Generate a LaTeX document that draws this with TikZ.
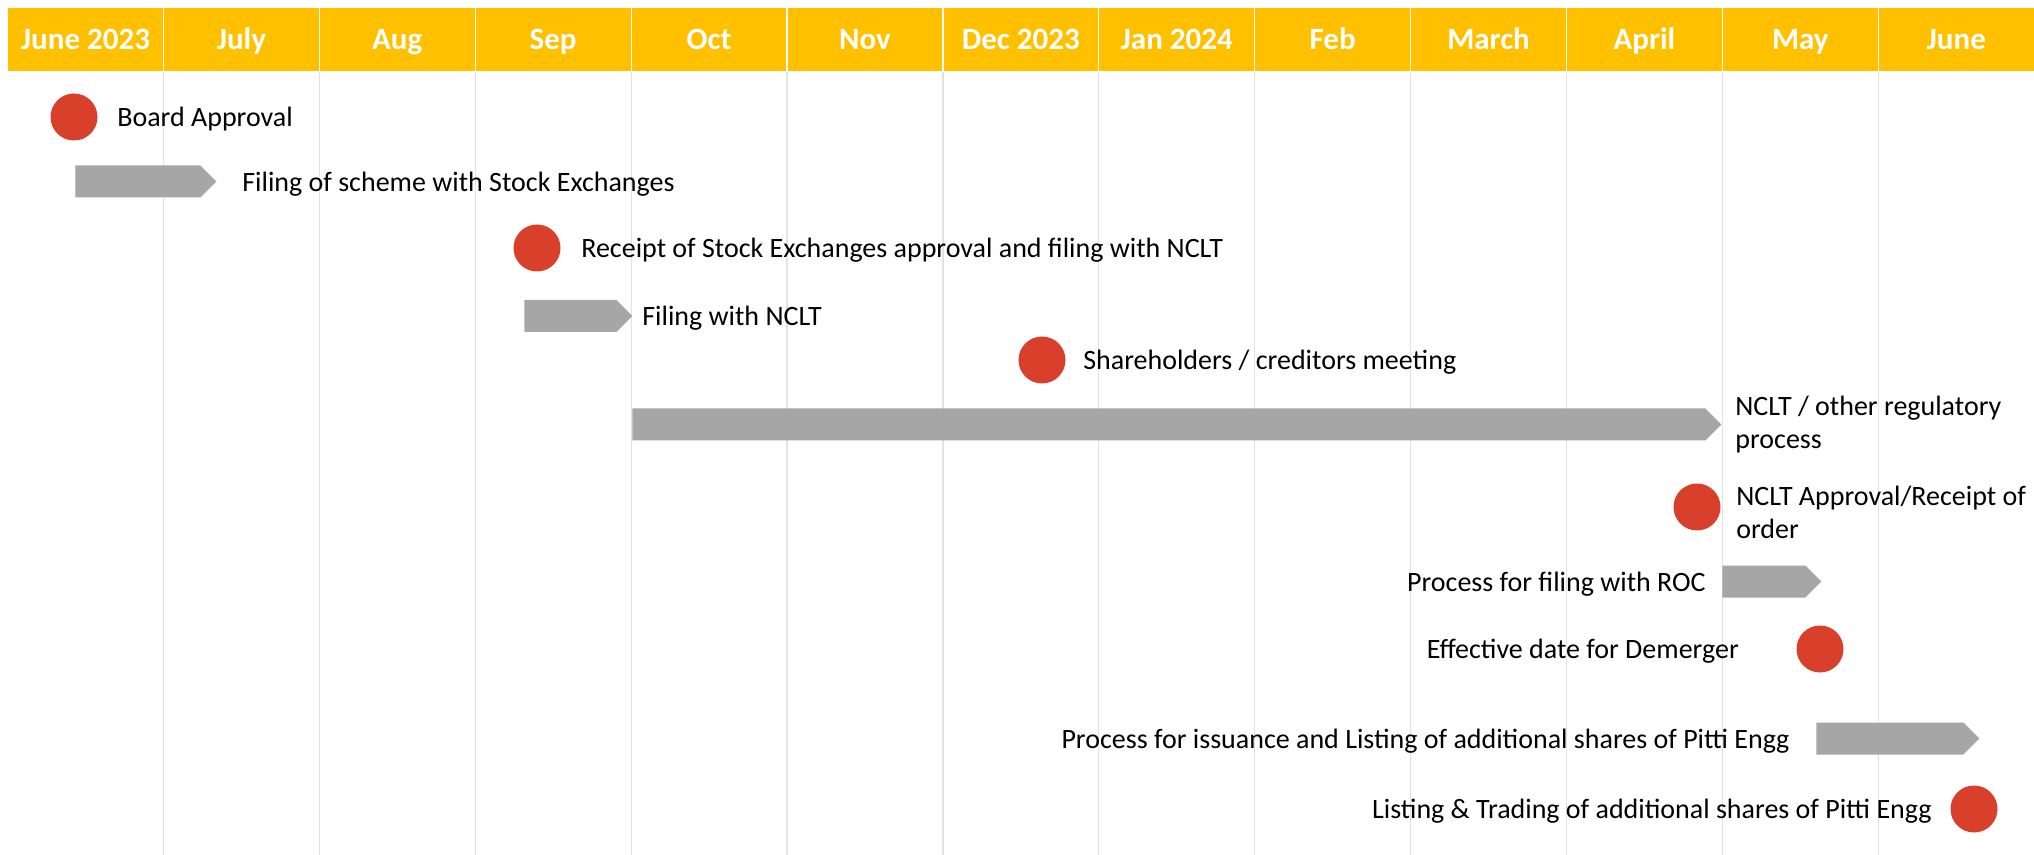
\documentclass[tikz,border=0pt]{standalone}
\usepackage{fontspec}
\setmainfont{Carlito}
\usetikzlibrary{positioning,shapes.symbols}

\definecolor{hdryellow}{HTML}{FFC000}
\definecolor{dotred}{HTML}{D9402B}
\definecolor{bargray}{HTML}{A6A6A6}
\definecolor{gridgray}{HTML}{E2E2E2}

\tikzset{
  month/.style={rectangle, fill=hdryellow, draw=white, line width=0.6pt,
    minimum width=77.95pt, minimum height=32.5pt, inner sep=0pt, outer sep=0pt,
    text=white, font=\fontsize{15.5}{18}\selectfont\bfseries,
    text height=10pt, text depth=0pt},
  milestone/.style={circle, fill=dotred, minimum size=23.5pt, inner sep=0pt},
  bar/.style={signal, signal to=east, fill=bargray, minimum height=16pt,
    inner sep=0pt, anchor=west},
  lbl/.style={inner sep=0pt, font=\fontsize{14}{16.5}\selectfont,
    text height=13.3pt, text depth=3.5pt},
  lbltwo/.style={inner sep=0pt, font=\fontsize{14}{16.5}\selectfont, align=left},
  gridline/.style={gridgray, line width=0.6pt}
}

\begin{document}
\begin{tikzpicture}[x=0.5pt,y=-0.5pt]
  \useasboundingbox (0,0) rectangle (2034,855);
  \coordinate (bottom) at (0,855);

  % months
  \node[month] (m1) at (85.45,39.5) {June 2023};
  \node[month, right=0pt of m1] (m2) {July};
  \node[month, right=0pt of m2] (m3) {Aug};
  \node[month, right=0pt of m3] (m4) {Sep};
  \node[month, right=0pt of m4] (m5) {Oct};
  \node[month, right=0pt of m5] (m6) {Nov};
  \node[month, right=0pt of m6] (m7) {Dec 2023};
  \node[month, right=0pt of m7] (m8) {Jan 2024};
  \node[month, right=0pt of m8] (m9) {Feb};
  \node[month, right=0pt of m9] (m10) {March};
  \node[month, right=0pt of m10] (m11) {April};
  \node[month, right=0pt of m11] (m12) {May};
  \node[month, right=0pt of m12] (m13) {June};

  \draw[gridline] (m1.south east) -- (m1.south east |- bottom);
  \draw[gridline] (m2.south east) -- (m2.south east |- bottom);
  \draw[gridline] (m3.south east) -- (m3.south east |- bottom);
  \draw[gridline] (m4.south east) -- (m4.south east |- bottom);
  \draw[gridline] (m5.south east) -- (m5.south east |- bottom);
  \draw[gridline] (m6.south east) -- (m6.south east |- bottom);
  \draw[gridline] (m7.south east) -- (m7.south east |- bottom);
  \draw[gridline] (m8.south east) -- (m8.south east |- bottom);
  \draw[gridline] (m9.south east) -- (m9.south east |- bottom);
  \draw[gridline] (m10.south east) -- (m10.south east |- bottom);
  \draw[gridline] (m11.south east) -- (m11.south east |- bottom);
  \draw[gridline] (m12.south east) -- (m12.south east |- bottom);

  % milestones and processes
  \node[milestone] (board) at (74,117) {};
  \node[lbl, right=9.5pt of board] (boardtxt) {Board Approval};

  \node[bar, minimum width=70.5pt] (filebar) at (75,181.5) {};
  \node[lbl, right=12.5pt of filebar] (filetxt) {Filing of scheme with Stock Exchanges};

  \node[milestone] (receipt) at (537,248) {};
  \node[lbl, right=10pt of receipt] (receipttxt) {Receipt of Stock Exchanges approval and filing with NCLT};

  \node[bar, minimum width=54pt] (ncltbar) at (524,316) {};
  \node[lbl, right=4.5pt of ncltbar] (nclttxt) {Filing with NCLT};

  \node[milestone] (meeting) at (1042,360) {};
  \node[lbl, right=8.5pt of meeting] (meetingtxt) {Shareholders / creditors meeting};

  \node[bar, minimum width=544.5pt] (regbar) at (632,424.5) {};
  \node[lbltwo, right=6.5pt of regbar] (regtxt) {NCLT / other regulatory\\process};

  \node[milestone] (order) at (1697,507) {};
  \node[lbltwo, right=7.5pt of order, yshift=-2.5pt] (ordertxt) {NCLT Approval/Receipt of\\order};

  \node[bar, minimum width=49.5pt] (rocbar) at (1722,581.5) {};
  \node[lbl, left=8pt of rocbar] (roctxt) {Process for filing with ROC};

  \node[milestone] (effective) at (1820,649) {};
  \node[lbl, left=28.5pt of effective] (effectivetxt) {Effective date for Demerger};

  \node[bar, minimum width=81.5pt] (issuebar) at (1816,738.5) {};
  \node[lbl, left=13pt of issuebar] (issuetxt) {Process for issuance and Listing of additional shares of Pitti Engg};

  \node[milestone] (listing) at (1974,809) {};
  \node[lbl, left=9pt of listing] (listingtxt) {Listing \& Trading of additional shares of Pitti Engg};
\end{tikzpicture}
\end{document}
